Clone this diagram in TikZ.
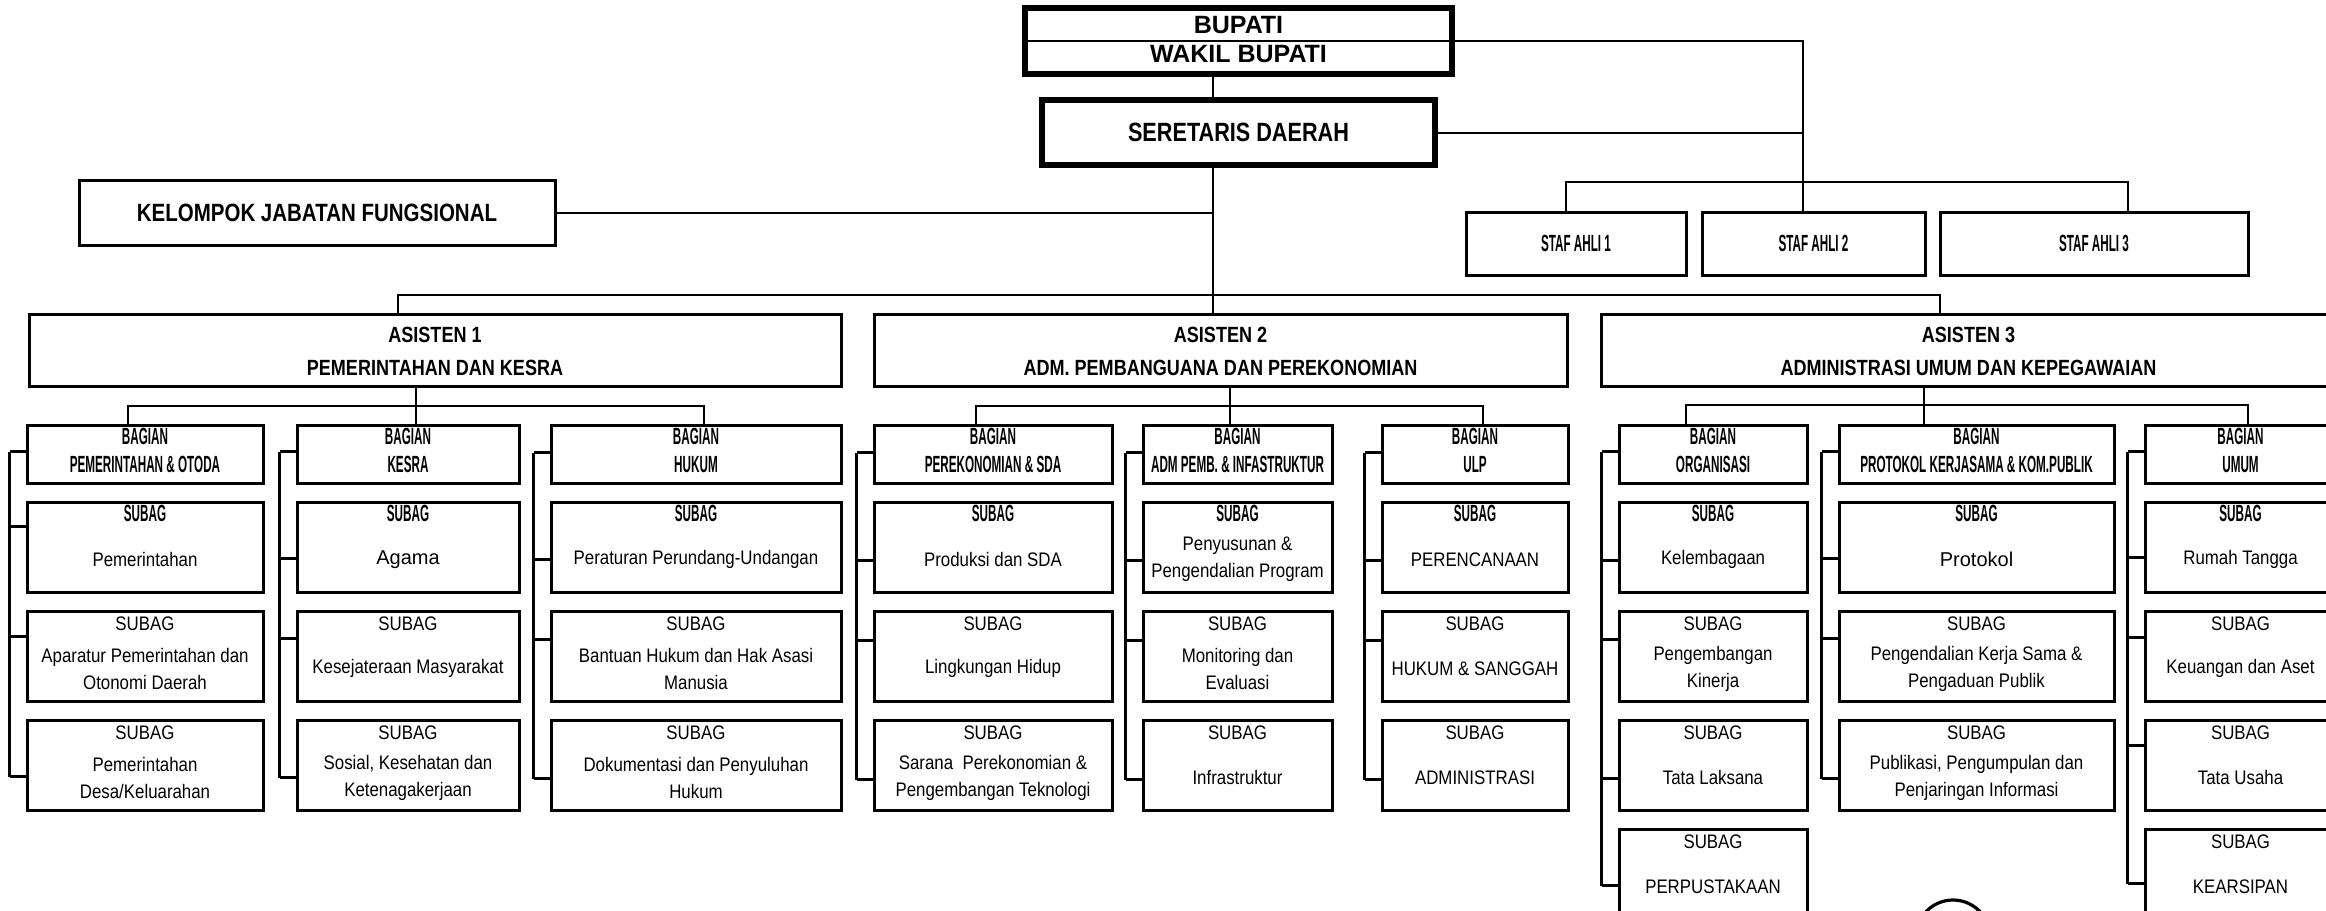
\documentclass[tikz,border=0pt]{standalone}
\usepackage{fontspec}
\setmainfont{Liberation Sans}
\newfontfamily\hfam[FakeStretch=0.82]{Liberation Sans}
\newfontfamily\cfam[FakeStretch=0.5]{Liberation Sans}
\newfontfamily\nfam[FakeStretch=0.86]{Liberation Sans}
\newfontfamily\rfam{Liberation Sans}
\usetikzlibrary{fit,calc}

\tikzset{
  bx/.style={draw, line width=1.5pt, inner sep=0pt, rectangle},
  heavy/.style={draw, line width=2.6pt, inner sep=0pt, rectangle},
  conn/.style={line width=1.4pt},
  thinconn/.style={line width=1pt},
  cond/.style={font=\cfam\bfseries\fontsize{11.7}{14}\selectfont, inner sep=0pt, anchor=base},
  narr/.style={font=\nfam\fontsize{9.8}{13.5}\selectfont, inner sep=0pt, anchor=base},
  body/.style={font=\nfam\fontsize{9.8}{13.5}\selectfont, inner sep=0pt, align=center},
  head/.style={font=\hfam\bfseries\fontsize{11}{14}\selectfont, inner sep=0pt, anchor=base},
  condc/.style={font=\cfam\bfseries\fontsize{11.7}{14}\selectfont, inner sep=0pt},
}

\newcommand\mkbox[5]{\node[bx, fit={(#2,#3) (#4,#5)}] (#1) {};}
\newcommand\bagian[6]{\mkbox{#1}{#2}{#3}{#4}{#5}
  \node[cond] (#1h) at ($(#1.north)+(0,21)$) {BAGIAN};
  \node[cond] (#1t) at ($(#1.north)+(0,49)$) {#6};}
\newcommand\subag[7]{\mkbox{#1}{#2}{#3}{#4}{#5}
  \node[#6] (#1h) at ($(#1.north)+(0,21)$) {SUBAG};
  \node[body] (#1t) at ($(#1.north)+(0,59)$) {#7};}
\newcommand\asis[7]{\mkbox{#1}{#2}{#3}{#4}{#5}
  \node[head] (#1h) at ($(#1.north)+(0,30)$) {#6};
  \node[head] (#1t) at ($(#1.north)+(0,63)$) {#7};}
\newcommand\tick[2]{\draw[conn] ($(#1.north west)+(0,#2)$) -- ++(-16,0);}
\newcommand\vbar[4]{\draw[conn] ($(#1.north west)+(-16,#2)$) -- ($(#3.north west)+(-16,#4)$);}

\begin{document}
\begin{tikzpicture}[x=0.5pt, y=-0.5pt]
\useasboundingbox (0,0) rectangle (2326,911);
\clip (0,0) rectangle (2326,911);
\fill[white] (0,0) rectangle (2326,911);

% ---------- top ----------
\node[heavy, fit={(1025,8) (1452,74)}] (bup) {};
\draw[line width=1.2pt] (bup.west) -- (bup.east);
\node[font=\bfseries\fontsize{12.5}{14}\selectfont, inner sep=0pt, anchor=base] (bupt) at ($(bup.north)+(0,28)$) {BUPATI};
\node[font=\bfseries\fontsize{12.5}{14}\selectfont, inner sep=0pt, anchor=base] (wbupt) at ($(bup.north)+(0,57)$) {WAKIL BUPATI};

\node[heavy, fit={(1042,100) (1435,165)}] (sek) {};
\node[font=\hfam\bfseries\fontsize{13.2}{15}\selectfont, inner sep=0pt] (sekt) at (sek.center) {SERETARIS DAERAH};

\node[bx, fit={(79,180) (555,245)}] (kjf) {};
\node[font=\hfam\bfseries\fontsize{12.5}{15}\selectfont, inner sep=0pt] (kjft) at (kjf.center) {KELOMPOK JABATAN FUNGSIONAL};

\node[bx, fit={(1466,212) (1686,275)}] (st1) {};
\node[condc] (st1t) at (st1.center) {STAF AHLI 1};
\node[bx, fit={(1702,212) (1925,275)}] (st2) {};
\node[condc] (st2t) at (st2.center) {STAF AHLI 2};
\node[bx, fit={(1940,212) (2248,275)}] (st3) {};
\node[condc] (st3t) at (st3.center) {STAF AHLI 3};

% ---------- asisten ----------
\asis{a1}{29}{314}{841}{386}{ASISTEN 1}{PEMERINTAHAN DAN KESRA}
\asis{a2}{874}{314}{1567}{386}{ASISTEN 2}{ADM. PEMBANGUANA DAN PEREKONOMIAN}
\asis{a3}{1601}{314}{2336}{386}{ASISTEN 3}{ADMINISTRASI UMUM DAN KEPEGAWAIAN}

% ---------- column 1 ----------
\bagian{b11}{27}{425}{263}{483}{PEMERINTAHAN \& OTODA}
\subag{s11a}{27}{502}{263}{592}{cond}{Pemerintahan}
\subag{s11b}{27}{611}{263}{701}{narr}{Aparatur Pemerintahan dan\\Otonomi Daerah}
\subag{s11c}{27}{720}{263}{810}{narr}{Pemerintahan\\Desa/Keluarahan}
% ---------- column 2 ----------
\bagian{b12}{297}{425}{519}{483}{KESRA}
\subag{s12a}{297}{502}{519}{592}{cond}{{\rfam\fontsize{10}{13}\selectfont Agama}}
\subag{s12b}{297}{611}{519}{701}{narr}{Kesejateraan Masyarakat}
\subag{s12c}{297}{720}{519}{810}{narr}{Sosial, Kesehatan dan\\Ketenagakerjaan}
% ---------- column 3 ----------
\bagian{b13}{551}{425}{841}{483}{HUKUM}
\subag{s13a}{551}{502}{841}{592}{cond}{Peraturan Perundang-Undangan}
\subag{s13b}{551}{611}{841}{701}{narr}{Bantuan Hukum dan Hak Asasi\\Manusia}
\subag{s13c}{551}{720}{841}{810}{narr}{Dokumentasi dan Penyuluhan\\Hukum}
% ---------- column 4 ----------
\bagian{b21}{874}{425}{1112}{483}{PEREKONOMIAN \& SDA}
\subag{s21a}{874}{502}{1112}{592}{cond}{Produksi dan SDA}
\subag{s21b}{874}{611}{1112}{701}{narr}{Lingkungan Hidup}
\subag{s21c}{874}{720}{1112}{810}{narr}{Sarana~~Perekonomian \&\\Pengembangan Teknologi}
% ---------- column 5 ----------
\bagian{b22}{1143}{425}{1332}{483}{ADM PEMB. \& INFASTRUKTUR}
\subag{s22a}{1143}{502}{1332}{592}{cond}{Penyusunan \&\\Pengendalian Program}
\subag{s22b}{1143}{611}{1332}{701}{narr}{Monitoring dan\\Evaluasi}
\subag{s22c}{1143}{720}{1332}{810}{narr}{Infrastruktur}
% ---------- column 6 ----------
\bagian{b23}{1382}{425}{1568}{483}{ULP}
\subag{s23a}{1382}{502}{1568}{592}{cond}{PERENCANAAN}
\subag{s23b}{1382}{611}{1568}{701}{narr}{HUKUM \& SANGGAH}
\subag{s23c}{1382}{720}{1568}{810}{narr}{ADMINISTRASI}
% ---------- column 7 ----------
\bagian{b31}{1619}{425}{1807}{483}{ORGANISASI}
\subag{s31a}{1619}{502}{1807}{592}{cond}{Kelembagaan}
\subag{s31b}{1619}{611}{1807}{701}{narr}{Pengembangan\\Kinerja}
\subag{s31c}{1619}{720}{1807}{810}{narr}{Tata Laksana}
\subag{s31d}{1619}{829}{1807}{919}{narr}{PERPUSTAKAAN}
% ---------- column 8 ----------
\bagian{b32}{1839}{425}{2114}{483}{PROTOKOL KERJASAMA \& KOM.PUBLIK}
\subag{s32a}{1839}{502}{2114}{592}{cond}{{\rfam\fontsize{10}{13}\selectfont Protokol}}
\subag{s32b}{1839}{611}{2114}{701}{narr}{Pengendalian Kerja Sama \&\\Pengaduan Publik}
\subag{s32c}{1839}{720}{2114}{810}{narr}{Publikasi, Pengumpulan dan\\Penjaringan Informasi}
% ---------- column 9 ----------
\bagian{b33}{2145}{425}{2336}{483}{UMUM}
\subag{s33a}{2145}{502}{2336}{592}{cond}{Rumah Tangga}
\subag{s33b}{2145}{611}{2336}{701}{narr}{Keuangan dan Aset}
\subag{s33c}{2145}{720}{2336}{810}{narr}{Tata Usaha}
\subag{s33d}{2145}{829}{2336}{919}{narr}{KEARSIPAN}

% ---------- top connectors ----------
\coordinate (spine) at (1213,295);
\draw[conn] (bup.south -| spine) -- (sek.north -| spine);
\draw[conn] (sek.south -| spine) -- (spine);
\draw[thinconn] (kjf.east) -- (kjf.east -| spine);

\coordinate (sv) at (1803,182);
\draw[thinconn] (bup.east) -- (bup.east -| sv) -- (sv);
\draw[thinconn] (sek.east) -- (sek.east -| sv);
\coordinate (js1) at (1566,182);
\coordinate (js3) at (2128,182);
\draw[conn] (js1 |- st1.north) -- (js1) -- (js3) -- (js3 |- st3.north);
\draw[conn] (sv) -- (sv |- st2.north);

% asisten bus
\coordinate (ja1) at (398,295);
\coordinate (ja3) at (1940,295);
\draw[conn] (ja1 |- a1.north) -- (ja1) -- (ja3) -- (ja3 |- a3.north);
\draw[conn] (spine) -- (spine |- a2.north);

% bagian buses
\coordinate (k1) at (416,406);
\coordinate (k1l) at (128,406);
\coordinate (k1r) at (704,406);
\draw[conn] (k1 |- a1.south) -- (k1 |- b12.north);
\draw[conn] (k1l |- b11.north) -- (k1l) -- (k1r) -- (k1r |- b13.north);

\coordinate (k2) at (1230,406);
\coordinate (k2l) at (976,406);
\coordinate (k2r) at (1483,406);
\draw[conn] (k2 |- a2.south) -- (k2 |- b22.north);
\draw[conn] (k2l |- b21.north) -- (k2l) -- (k2r) -- (k2r |- b23.north);

\coordinate (k3) at (1924,405);
\coordinate (k3l) at (1686,405);
\coordinate (k3r) at (2248,405);
\draw[conn] (k3 |- a3.south) -- (k3 |- b32.north);
\draw[conn] (k3l |- b31.north) -- (k3l) -- (k3r) -- (k3r |- b33.north);

% brackets
\tick{b11}{28}\tick{s11a}{26}\tick{s11b}{27}\tick{s11c}{58}\vbar{b11}{28}{s11c}{58}
\tick{b12}{28}\tick{s12a}{58}\tick{s12b}{29}\tick{s12c}{59}\vbar{b12}{28}{s12c}{59}
\tick{b13}{29}\tick{s13a}{59}\tick{s13b}{30}\tick{s13c}{60}\vbar{b13}{29}{s13c}{60}
\tick{b21}{29}\tick{s21a}{60}\tick{s21b}{31}\tick{s21c}{61}\vbar{b21}{29}{s21c}{61}
\tick{b22}{29}\tick{s22a}{60}\tick{s22b}{31}\tick{s22c}{61}\vbar{b22}{29}{s22c}{61}
\tick{b23}{29}\tick{s23a}{60}\tick{s23b}{31}\tick{s23c}{61}\vbar{b23}{29}{s23c}{61}
\tick{b31}{28}\tick{s31a}{60}\tick{s31b}{30}\tick{s31c}{60}\tick{s31d}{58}\vbar{b31}{28}{s31d}{58}
\tick{b32}{28}\tick{s32a}{58}\tick{s32b}{29}\tick{s32c}{60}\vbar{b32}{28}{s32c}{60}
\tick{b33}{28}\tick{s33a}{57}\tick{s33b}{28}\tick{s33c}{27}\tick{s33d}{56}\vbar{b33}{28}{s33d}{56}

% scanned stamp circle (partly visible)
\draw[line width=1.6pt] (1953,937) circle[radius=18.5pt];
\end{tikzpicture}
\end{document}
